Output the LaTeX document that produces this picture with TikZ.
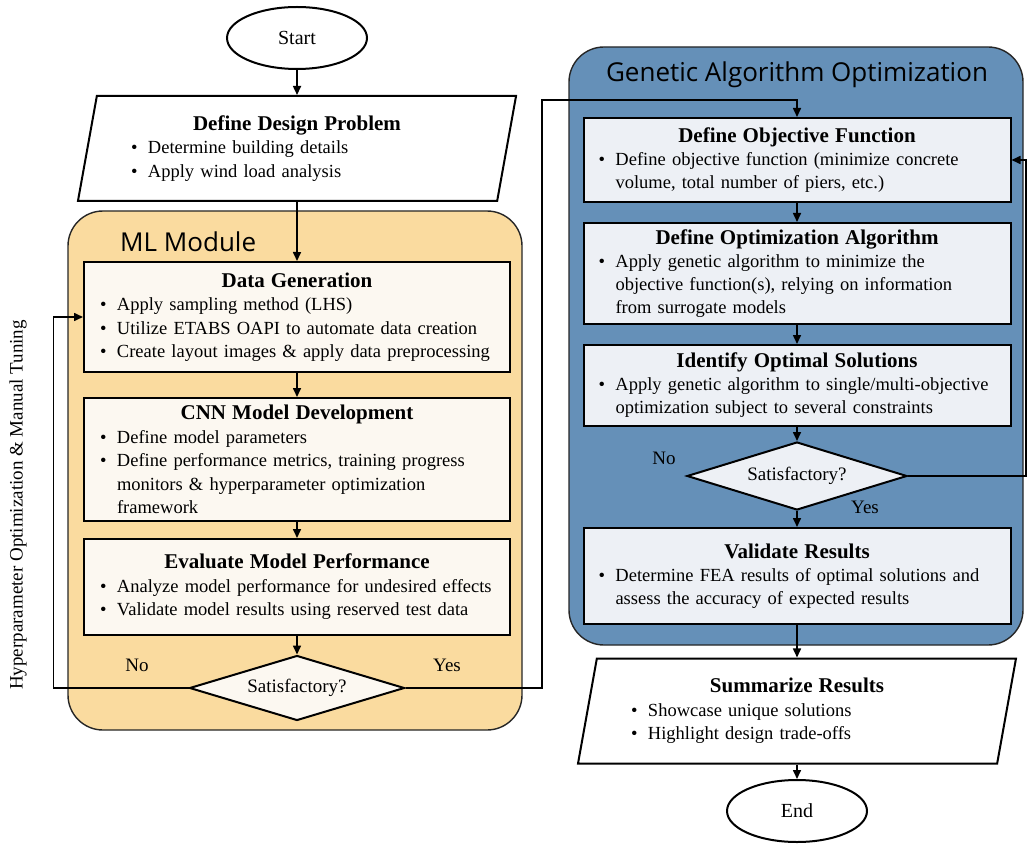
\documentclass[tikz,border=0pt]{standalone}
\usepackage{fontspec}
\setmainfont{Liberation Serif}
\newfontfamily\titlefont{Open Sans}
\usetikzlibrary{shapes.geometric,arrows.meta}

\definecolor{mlfill}{HTML}{FADB9F}
\definecolor{mlbox}{HTML}{FCF8F1}
\definecolor{gafill}{HTML}{6590B8}
\definecolor{gabox}{HTML}{EDF0F5}
\definecolor{panelline}{HTML}{262626}

\newlength\bulskip
\newcommand\hd[1]{{\centering\bfseries\fontsize{21}{25}\selectfont #1\par}}
\newcommand\bitem[1]{\par\noindent\hbox to \dimexpr\bulskip+17pt\relax{\hskip\bulskip\textbullet\hfil}\parbox[t]{\dimexpr\hsize-\bulskip-17pt\relax}{\raggedright #1}}

\tikzset{
	panel/.style={draw=panelline, line width=1.4pt, rounded corners=35pt},
	paneltitle/.style={font=\titlefont\fontsize{26}{28}\selectfont, inner sep=0pt},
	mlstep/.style={draw, line width=2pt, fill=mlbox, minimum width=426pt, text width=426pt, inner xsep=0pt, inner ysep=0pt, align=left, font=\fontsize{18.5}{23.5}\selectfont\setlength\bulskip{16pt}},
	gastep/.style={mlstep, fill=gabox, minimum width=427pt, text width=427pt, font=\fontsize{18.5}{23}\selectfont\setlength\bulskip{15pt}},
	decide/.style={diamond, draw, line width=2pt, aspect=3.3, inner sep=0pt, minimum width=215pt, minimum height=65pt, font=\fontsize{19}{22}\selectfont},
	inout/.style={trapezium, trapezium left angle=76.6, trapezium right angle=103.4, trapezium stretches=true, draw, line width=2pt, fill=white, minimum width=439pt, minimum height=105pt, text width=332pt, align=left, inner xsep=0pt, inner ysep=0pt, font=\fontsize{18.5}{23.5}\selectfont\setlength\bulskip{0pt}},
	terminal/.style={ellipse, draw, line width=2pt, fill=white, minimum width=140pt, minimum height=62pt, font=\fontsize{20}{22}\selectfont},
	lbl/.style={font=\fontsize{19}{22}\selectfont, inner sep=0pt},
	flow/.style={-{Triangle[length=9pt,width=8pt]}, line width=1.6pt}
}

\begin{document}
\begin{tikzpicture}[x=1pt, y=-1pt]
	\useasboundingbox (0,0) rectangle (1028,845);

	\node[panel, fill=mlfill, minimum width=454pt, minimum height=519pt] (mlmodule) at (295,470.5) {};
	\node[panel, fill=gafill, minimum width=454pt, minimum height=598pt] (gamodule) at (796,346) {};
	\node[paneltitle, anchor=west] (mltitle) at (120,242) {ML Module};
	\node[paneltitle] (gatitle) at (797,75) {Genetic Algorithm Optimization};

	\node[terminal] (start) at (297,38) {Start};
	\node[inout] (desprob) at (297,148.5) {\hd{Define Design Problem}
		\bitem{Determine building details}
		\bitem{Apply wind load analysis}};

	\node[mlstep, minimum height=110pt] (datagen) at (297,317) {\hd{Data Generation}
		\bitem{Apply sampling method (LHS)}
		\bitem{Utilize ETABS OAPI to automate data creation}
		\bitem{Create layout images \& apply data preprocessing}};
	\node[mlstep, minimum height=123pt] (cnnmodel) at (297,459.5) {\hd{CNN Model Development}
		\bitem{Define model parameters}
		\bitem{Define performance metrics, training progress\newline monitors \& hyperparameter optimization\newline framework}};
	\node[mlstep, minimum height=96pt] (evalmodel) at (297,587) {\hd{Evaluate Model Performance}
		\bitem{Analyze model performance for undesired effects}
		\bitem{Validate model results using reserved test data}};
	\node[decide, fill=mlbox] (sat1) at (297,688) {Satisfactory?};
	\node[lbl] (no1) at (137,665) {No};
	\node[lbl] (yes1) at (447,665) {Yes};

	\node[gastep, minimum height=84pt] (objfun) at (797,160) {\hd{Define Objective Function}
		\bitem{Define objective function (minimize concrete\newline volume, total number of piers, etc.)}};
	\node[gastep, minimum height=101pt] (optalg) at (797,273.5) {\hd{Define Optimization Algorithm}
		\bitem{Apply genetic algorithm to minimize the\newline objective function(s), relying on information\newline from surrogate models}};
	\node[gastep, minimum height=81pt] (optsol) at (797,385.5) {\hd{Identify Optimal Solutions}
		\bitem{Apply genetic algorithm to single/multi-objective\newline optimization subject to several constraints}};
	\node[decide, fill=gabox, minimum width=220pt, minimum height=68pt] (sat2) at (797,476) {Satisfactory?};
	\node[lbl] (no2) at (664,458) {No};
	\node[lbl] (yes2) at (865,507) {Yes};
	\node[gastep, minimum height=96pt] (validate) at (797,576) {\hd{Validate Results}
		\bitem{Determine FEA results of optimal solutions and\newline assess the accuracy of expected results}};

	\node[inout] (summary) at (797,711) {\hd{Summarize Results}
		\bitem{Showcase unique solutions}
		\bitem{Highlight design trade-offs}};
	\node[terminal] (end) at (797,811) {End};

	\node[rotate=90, font=\fontsize{19}{22}\selectfont] (tuning) at (18,505) {Hyperparameter Optimization \& Manual Tuning};

	\coordinate (yesturn) at (542,100);
	\coordinate (noturn) at (1026,476);

	\draw[flow] (start) -- (desprob);
	\draw[flow] (desprob) -- (datagen);
	\draw[flow] (datagen) -- (cnnmodel);
	\draw[flow] (cnnmodel) -- (evalmodel);
	\draw[flow] (evalmodel) -- (sat1);
	\draw[flow] (sat1.west) -- ++(-135,0) |- (datagen.west);
	\draw[flow] (sat1.east) -| (yesturn) -| (objfun.north);
	\draw[flow] (objfun) -- (optalg);
	\draw[flow] (optalg) -- (optsol);
	\draw[flow] (optsol) -- (sat2);
	\draw[flow] (sat2) -- (validate);
	\draw[flow] (sat2.east) -- (noturn) |- (objfun.east);
	\draw[flow] (validate) -- (summary);
	\draw[flow] (summary) -- (end);
\end{tikzpicture}
\end{document}
